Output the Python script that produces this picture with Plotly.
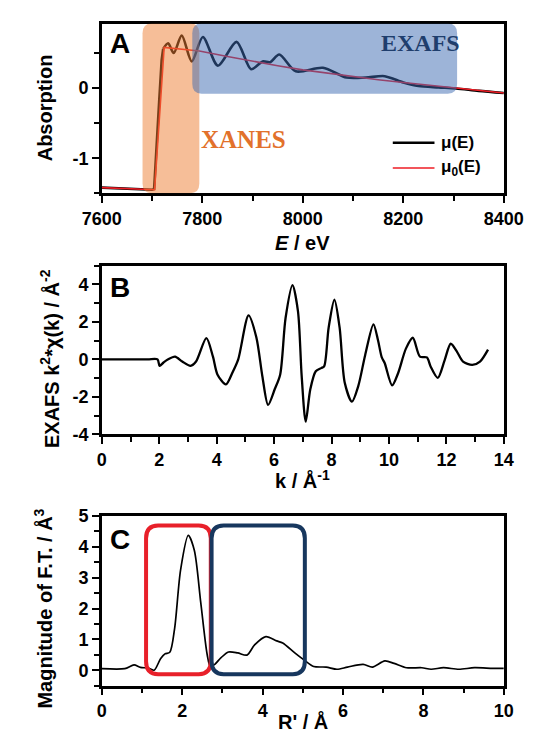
import plotly.graph_objects as go

# ---------------- Panel A: absorption spectrum ----------------
energy_mu = [7600, 7650, 7700, 7704, 7709, 7714, 7719, 7722, 7732, 7743, 7759,
             7779, 7801, 7831, 7868, 7897, 7920, 7935, 7953, 7986, 8040, 8087, 8125,
             8163, 8200, 8230, 8270, 8305, 8350, 8400]
mu_E = [-1.42, -1.43, -1.45, -1.44, -0.90, -0.20, 0.40, 0.56, 0.64, 0.50, 0.75,
        0.38, 0.73, 0.32, 0.66, 0.27, 0.38, 0.37, 0.48, 0.24, 0.29, 0.15, 0.15,
        0.17, 0.08, 0.03, 0.01, -0.005, -0.04, -0.07]
EDGE_TOP = 7  # index of the last point of the absorption edge

energy_mu0 = [7600, 7700, 7705, 7724, 7794, 7850, 7900, 7950, 8000, 8050, 8100, 8150,
              8200, 8250, 8300, 8350, 8400]
mu0_E = [-1.42, -1.45, -1.45, 0.58, 0.53, 0.45, 0.38, 0.32, 0.26, 0.21, 0.17, 0.12,
         0.08, 0.04, 0.00, -0.035, -0.07]

# energy windows of the two regions (eV) and their vertical extent
xanes_window = [7681, 7794]
xanes_span = [-1.5, 0.92]
exafs_window = [7780, 8307]
exafs_span = [-0.08, 0.92]

# ---------------- Panel B: k^2-weighted EXAFS ----------------
k_values = [0, 0.8, 1.6, 1.94, 2.01, 2.15, 2.31, 2.55, 2.80, 3.09, 3.28, 3.64, 3.87, 4.03,
            4.32, 4.55, 4.75, 5.11, 5.38, 5.59, 5.79, 6.02, 6.21, 6.40, 6.64, 6.83, 6.96,
            7.10, 7.26, 7.45, 7.64, 7.74, 7.90, 8.10, 8.28, 8.46, 8.71, 8.93, 9.17,
            9.46, 9.62, 9.75, 9.85, 10.11, 10.32, 10.59, 10.83, 11.08, 11.32, 11.45,
            11.70, 11.94, 12.15, 12.37, 12.58, 12.90, 13.17, 13.45]
chi_k2 = [0, 0, 0, 0, -0.35, -0.17, 0.0, 0.14, -0.12, -0.35, -0.12, 1.13, 0.14, -0.82,
          -1.34, -0.70, 0.0, 2.34, 1.18, -0.90, -2.43, -1.60, -0.82, 2.22, 3.96, 2.57,
          -0.90, -3.33, -1.60, -0.64, -0.47, -0.38, 1.70, 3.18, 1.70, -1.25, -2.26,
          -1.43, 0.22, 1.87, 1.00, 0.10, -0.20, -1.39, -0.73, 0.57, 1.15, 0.14, 0.10,
          -0.38, -0.99, -0.04, 0.83, 0.40, -0.12, -0.30, -0.12, 0.52]

# ---------------- Panel C: Fourier transform magnitude ----------------
r_values = [0, 0.57, 0.80, 0.96, 1.15, 1.30, 1.46, 1.57, 1.69, 1.81, 1.96, 2.15, 2.30,
            2.46, 2.62, 2.70, 2.81, 2.96, 3.15, 3.38, 3.61, 3.80, 4.08, 4.35, 4.50,
            4.80, 5.04, 5.27, 5.58, 5.85, 6.11, 6.50, 6.73, 7.04, 7.27, 7.58, 7.96,
            8.19, 8.50, 8.88, 9.27, 9.73, 10.0]
ft_mag = [0.05, 0.05, 0.17, 0.09, 0.07, 0.0, 0.37, 0.53, 0.58, 1.35, 3.26, 4.37, 3.89,
          2.20, 0.51, 0.12, 0.19, 0.40, 0.59, 0.56, 0.49, 0.82, 1.09, 0.95, 0.88,
          0.56, 0.32, 0.12, 0.10, 0.03, 0.10, 0.19, 0.10, 0.30, 0.22, 0.08, 0.08,
          0.03, 0.08, 0.03, 0.08, 0.06, 0.06]

# R windows of the first shell and the outer shells
shell1_window = [1.10, 2.71]
outer_window = [2.73, 5.05]
shell_span = [-0.13, 4.69]

W, H = 547, 743
FONT = "Liberation Sans"
X_DOMAIN = [88.3 / W, 522 / W]


def ydom(top_px, bottom_px):
    return [1 - bottom_px / H, 1 - top_px / H]


def rounded_rect(x0, x1, y0, y1, rx, ry):
    return (f"M {x0 + rx},{y0} L {x1 - rx},{y0} Q {x1},{y0} {x1},{y0 + ry} "
            f"L {x1},{y1 - ry} Q {x1},{y1} {x1 - rx},{y1} "
            f"L {x0 + rx},{y1} Q {x0},{y1} {x0},{y1 - ry} "
            f"L {x0},{y0 + ry} Q {x0},{y0} {x0 + rx},{y0} Z")


tickfont = dict(family=FONT, size=18, color="black", weight="bold")


def axis(**kw):
    base = dict(showline=True, linecolor="black", linewidth=2.5, mirror=True,
                ticks="outside", ticklen=7, tickwidth=2, tickcolor="black",
                tickfont=tickfont, showgrid=False, zeroline=False, fixedrange=True)
    base.update(kw)
    return base


def minor(vals):
    return dict(tickmode="array", tickvals=vals, ticks="outside", ticklen=5,
                tickwidth=2, tickcolor="black")


fig = go.Figure()

# absorption edge (straight) and post-edge oscillations (smoothed)
fig.add_trace(go.Scatter(x=energy_mu[:EDGE_TOP + 1], y=mu_E[:EDGE_TOP + 1], mode="lines",
                         name="μ(E)", line=dict(color="black", width=2.6),
                         xaxis="x", yaxis="y", showlegend=False))
fig.add_trace(go.Scatter(x=energy_mu[EDGE_TOP:], y=mu_E[EDGE_TOP:], mode="lines",
                         name="μ(E)",
                         line=dict(color="black", width=2.6, shape="spline", smoothing=0.8),
                         xaxis="x", yaxis="y", showlegend=False))
fig.add_trace(go.Scatter(x=energy_mu0, y=mu0_E, mode="lines", name="μ0(E)",
                         line=dict(color="#ee1c24", width=1.6),
                         xaxis="x", yaxis="y", showlegend=False))
fig.add_trace(go.Scatter(x=k_values, y=chi_k2, mode="lines",
                         line=dict(color="black", width=2.3, shape="spline", smoothing=0.8),
                         xaxis="x2", yaxis="y2", showlegend=False))
fig.add_trace(go.Scatter(x=r_values, y=ft_mag, mode="lines",
                         line=dict(color="black", width=1.7, shape="spline", smoothing=0.8),
                         xaxis="x3", yaxis="y3", showlegend=False))

yA_ticks = [-1, 0]
yB_ticks = [-4, -2, 0, 2, 4]

fig.update_layout(
    width=W, height=H, margin=dict(l=0, r=0, t=0, b=0),
    paper_bgcolor="white", plot_bgcolor="white",
    xaxis=axis(domain=X_DOMAIN, anchor="y", range=[7600, 8400], tickmode="array",
               tickvals=[7600, 7800, 8000, 8200, 8400],
               minor=minor([7700, 7900, 8100, 8300])),
    yaxis=axis(domain=ydom(14, 188.3), anchor="x", range=[-1.5, 0.92], tickmode="array",
               tickvals=yA_ticks, ticktext=[str(v) for v in yA_ticks],
               minor=minor([-1.5, -0.5, 0.5])),
    xaxis2=axis(domain=X_DOMAIN, anchor="y2", range=[0, 14], tickmode="array",
                tickvals=list(range(0, 15, 2)), minor=minor(list(range(1, 14, 2)))),
    yaxis2=axis(domain=ydom(262.7, 436), anchor="x2", range=[-4, 5], tickmode="array",
                tickvals=yB_ticks, ticktext=[str(v) for v in yB_ticks],
                minor=minor([-3, -1, 1, 3, 5])),
    xaxis3=axis(domain=X_DOMAIN, anchor="y3", range=[0, 10], tickmode="array",
                tickvals=list(range(0, 11, 2)), minor=minor(list(range(1, 10, 2)))),
    yaxis3=axis(domain=ydom(520, 694.3), anchor="x3", range=[-0.5, 5], tickmode="array",
                tickvals=[0, 1, 2, 3, 4, 5],
                minor=minor([-0.5, 0.5, 1.5, 2.5, 3.5, 4.5])),
)

# highlighted regions of the absorption spectrum
px_per_eV = 433.7 / 800
px_per_abs = 174.3 / 2.42
fig.add_shape(type="path", xref="x", yref="y", layer="above",
              path=rounded_rect(xanes_window[0], xanes_window[1], xanes_span[0], xanes_span[1],
                                10 / px_per_eV, 10 / px_per_abs),
              fillcolor="rgba(237,125,49,0.5)", line=dict(width=0))
fig.add_shape(type="path", xref="x", yref="y", layer="above",
              path=rounded_rect(exafs_window[0], exafs_window[1], exafs_span[0], exafs_span[1],
                                10 / px_per_eV, 10 / px_per_abs),
              fillcolor="rgba(60,105,178,0.5)", line=dict(width=0))

# shell boxes of the Fourier transform
px_per_R = 433.7 / 10
px_per_ft = 174.3 / 5.5
for win, col in ((shell1_window, "#e8202a"), (outer_window, "#17375e")):
    fig.add_shape(type="path", xref="x3", yref="y3", layer="above",
                  path=rounded_rect(win[0], win[1], shell_span[0], shell_span[1],
                                    13 / px_per_R, 13 / px_per_ft),
                  line=dict(color=col, width=4))

# legend of panel A
legend_x = [8179, 8262]
for yv, col, wd in ((-0.78, "black", 2.6), (-1.14, "#ee1c24", 1.6)):
    fig.add_shape(type="line", xref="x", yref="y", x0=legend_x[0], x1=legend_x[1],
                  y0=yv, y1=yv, line=dict(color=col, width=wd))

bold = dict(family=FONT, color="black", weight="bold")
notes = [
    dict(text="μ(E)", x=8270, y=-0.78, xref="x", yref="y", xanchor="left",
         font=dict(size=17, **bold)),
    dict(text="μ<sub>0</sub>(E)", x=8270, y=-1.14, xref="x", yref="y", xanchor="left",
         font=dict(size=17, **bold)),
    dict(text="EXAFS", x=8234, y=0.64, xref="x", yref="y",
         font=dict(family="Liberation Serif", size=24, color="#1f3e6d", weight="bold")),
    dict(text="XANES", x=7882, y=-0.74, xref="x", yref="y",
         font=dict(family="Liberation Serif", size=25, color="#e2712b", weight="bold")),
    dict(text="A", x=0.015, y=0.88, xref="x domain", yref="y domain", xanchor="left",
         font=dict(size=28, **bold)),
    dict(text="B", x=0.015, y=0.87, xref="x2 domain", yref="y2 domain", xanchor="left",
         font=dict(size=28, **bold)),
    dict(text="C", x=0.015, y=0.86, xref="x3 domain", yref="y3 domain", xanchor="left",
         font=dict(size=28, **bold)),
    dict(text="Absorption", x=27 / W, y=1 - 101 / H, textangle=-90,
         font=dict(size=20, **bold)),
    dict(text="<i>E</i> / eV", x=305 / W, y=1 - 239 / H, font=dict(size=20, **bold)),
    dict(text="EXAFS k<sup>2</sup>*χ(k) / Å<sup>-2</sup>", x=32 / W, y=1 - 358 / H,
         textangle=-90, font=dict(size=20, **bold)),
    dict(text="k / Å<sup>-1</sup>", x=305 / W, y=1 - 482 / H, font=dict(size=20, **bold)),
    dict(text="Magnitude of F.T. / Å<sup>3</sup>", x=25 / W, y=1 - 615 / H,
         textangle=-90, font=dict(size=20, **bold)),
    dict(text="R' / Å", x=305 / W, y=1 - 731 / H, font=dict(size=20, **bold)),
]
for n in notes:
    n.setdefault("xref", "paper")
    n.setdefault("yref", "paper")
    n.setdefault("xanchor", "center")
    n.setdefault("yanchor", "middle")
    fig.add_annotation(showarrow=False, **n)

fig.write_html("out.html")
